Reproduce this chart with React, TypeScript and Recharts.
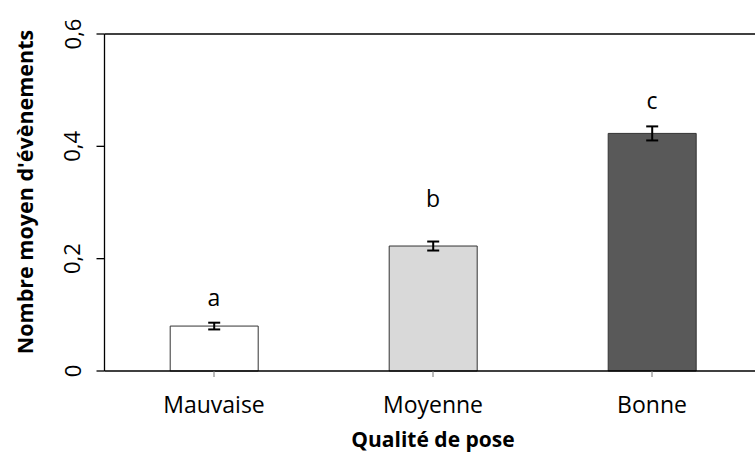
import { BarChart, Bar, XAxis, YAxis, ErrorBar, Cell, ReferenceLine, ReferenceDot } from 'recharts';

const categories = ['Mauvaise', 'Moyenne', 'Bonne'];
const means = [0.08, 0.2225, 0.423];
const errors = [0.006, 0.008, 0.0125];
const letters = ['a', 'b', 'c'];
const letterHeights = [0.132, 0.308, 0.482]; // y of the significance letters, in data units
const yTicks = [0, 0.2, 0.4, 0.6];

const fills = ['#ffffff', '#d9d9d9', '#595959'];
const font = '"Open Sans", sans-serif';

const data = categories.map((name, i) => ({
    name,
    value: means[i],
    err: errors[i]
}));

const fmt = (v: number) => String(v).replace('.', ',');

function YTick(props: any) {
    const { x, y, payload } = props;
    return (
        <text
            x={x}
            y={y}
            transform={`rotate(-90, ${x}, ${y})`}
            textAnchor="middle"
            dominantBaseline="central"
            fontFamily={font}
            fontSize={22}
            fill="#000"
        >
            {fmt(payload.value)}
        </text>
    );
}

function XTick(props: any) {
    const { x, y, payload } = props;
    return (
        <text x={x} y={y + 34} textAnchor="middle" fontFamily={font} fontSize={23} fill="#000">
            {payload.value}
        </text>
    );
}

function LetterShape(props: any) {
    const { cx, cy, letter } = props;
    return (
        <text x={cx} y={cy} textAnchor="middle" dominantBaseline="central" fontFamily={font} fontSize={23} fill="#000">
            {letter}
        </text>
    );
}

export default function App() {
    return (
        <div style={{ position: 'fixed', left: 0, top: 0, width: 755, height: 457, overflow: 'hidden', background: '#fff' }}>
            <BarChart
                width={770}
                height={457}
                data={data}
                margin={{ top: 34, right: 8.5, left: 0, bottom: 0 }}
                barCategoryGap="30%"
            >
                <ReferenceLine y={0.6} stroke="#000" strokeWidth={1.3} ifOverflow="visible" />
                <XAxis
                    dataKey="name"
                    height={86}
                    axisLine={{ stroke: '#000', strokeWidth: 1.3 }}
                    tickLine={{ stroke: '#777' }}
                    tickSize={6}
                    tick={<XTick />}
                />
                <YAxis
                    width={104.5}
                    domain={[0, 0.6]}
                    ticks={yTicks}
                    axisLine={{ stroke: '#000', strokeWidth: 1.3 }}
                    tickLine={{ stroke: '#000', strokeWidth: 1.3 }}
                    tickSize={8}
                    tick={<YTick />}
                    tickMargin={25}
                />
                <Bar dataKey="value" stroke="#333" strokeWidth={1} isAnimationActive={false}>
                    {data.map((d, i) => (
                        <Cell key={d.name} fill={fills[i]} />
                    ))}
                    <ErrorBar dataKey="err" width={6} stroke="#000" strokeWidth={2} />
                </Bar>
                {categories.map((c, i) => (
                    <ReferenceDot
                        key={c}
                        x={c}
                        y={letterHeights[i]}
                        r={0}
                        ifOverflow="visible"
                        shape={(p: any) => <LetterShape {...p} letter={letters[i]} />}
                    />
                ))}
                <text x={433} y={447} textAnchor="middle" fontFamily={font} fontSize={21} fontWeight={700} fill="#000">
                    Qualité de pose
                </text>
                <text
                    x={24}
                    y={192}
                    transform="rotate(-90, 24, 192)"
                    textAnchor="middle"
                    dominantBaseline="central"
                    fontFamily={font}
                    fontSize={21.5}
                    fontWeight={700}
                    fill="#000"
                >
                    Nombre moyen d'évènements
                </text>
            </BarChart>
        </div>
    );
}
